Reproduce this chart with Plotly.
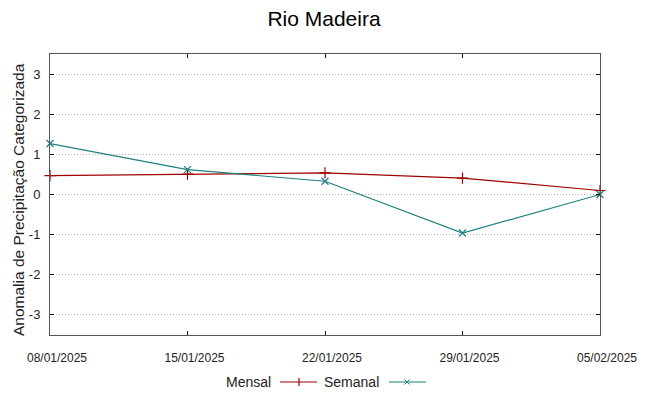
import plotly.graph_objects as go

dates = ["08/01/2025", "15/01/2025", "22/01/2025", "29/01/2025", "05/02/2025"]
mensal = [0.47, 0.51, 0.54, 0.41, 0.10]
semanal = [1.27, 0.62, 0.33, -0.96, 0.0]
yticks = [-3, -2, -1, 0, 1, 2, 3]

RED = "#a00000"
TEAL = "#1e8080"
FONT = "Liberation Sans, Arial, sans-serif"
TXT = "#222"

W, H = 648, 396
L, R, T, B = 50, 48, 54, 61
PW, PH = W - L - R, H - T - B

fig = go.Figure()
fig.add_trace(go.Scatter(x=list(range(len(dates))), y=mensal, mode="lines+markers", name="Mensal",
                         line=dict(color=RED, width=1.2),
                         marker=dict(symbol="cross-thin-open", size=8, line=dict(color=RED, width=1.2)),
                         showlegend=False, cliponaxis=False))
fig.add_trace(go.Scatter(x=list(range(len(dates))), y=semanal, mode="lines+markers", name="Semanal",
                         line=dict(color=TEAL, width=1.2),
                         marker=dict(symbol="x-thin-open", size=7, line=dict(color=TEAL, width=1.2)),
                         showlegend=False, cliponaxis=False))

fig.update_layout(
    width=W, height=H,
    margin=dict(l=L, r=R, t=T, b=B),
    paper_bgcolor="white", plot_bgcolor="white",
    title=dict(text="Rio Madeira", x=0.5, xanchor="center", y=1 - 19 / H, yanchor="middle",
               font=dict(family=FONT, size=21, color="black")),
    font=dict(family=FONT, color=TXT),
    xaxis=dict(range=[0, len(dates) - 1], tickvals=list(range(len(dates))), ticktext=dates,
               showgrid=False, zeroline=False, showline=True, linecolor="#555", linewidth=1,
               mirror="ticks", ticks="inside", ticklen=4, tickcolor="#111",
               ticklabelshift=7, ticklabelstandoff=12,
               tickfont=dict(family=FONT, size=12, color=TXT)),
    yaxis=dict(range=[-3.5, 3.5], tickvals=yticks, ticktext=[str(v) for v in yticks],
               showgrid=True, gridcolor="#b0b0b0", griddash="1px,2px", gridwidth=1,
               zeroline=False, showline=True, linecolor="#555", linewidth=1,
               mirror="ticks", ticks="inside", ticklen=4, tickcolor="#111",
               ticklabelstandoff=6,
               tickfont=dict(family=FONT, size=13, color=TXT)),
)

def px_x(p):
    return (p - L) / PW
def px_y(p):
    return (H - B - p) / PH

# y-axis title placed like the reference
fig.add_annotation(x=px_x(18), y=px_y(200), xref="paper", yref="paper",
                   text="Anomalia de Precipitação Categorizada", textangle=-90,
                   showarrow=False, xanchor="center", yanchor="middle",
                   font=dict(family=FONT, size=15.5, color=TXT))

# custom legend (text followed by line sample, gnuplot style)
ly = 382

def hline(x0, x1, y0, y1, color, w=1.2):
    fig.add_shape(type="line", xref="paper", yref="paper", x0=px_x(x0), x1=px_x(x1),
                  y0=px_y(y0), y1=px_y(y1), line=dict(color=color, width=w))

fig.add_annotation(x=px_x(273), y=px_y(ly), xref="paper", yref="paper", text="Mensal",
                   showarrow=False, xanchor="right", yanchor="middle",
                   font=dict(family=FONT, size=14, color=TXT))
hline(280, 317, ly, ly, RED)
hline(299, 299, ly - 4, ly + 4, RED)
fig.add_annotation(x=px_x(381), y=px_y(ly), xref="paper", yref="paper", text="Semanal",
                   showarrow=False, xanchor="right", yanchor="middle",
                   font=dict(family=FONT, size=14, color=TXT))
hline(389, 426, ly, ly, TEAL)
hline(404.5, 409.5, ly - 2.5, ly + 2.5, TEAL, 1)
hline(404.5, 409.5, ly + 2.5, ly - 2.5, TEAL, 1)

fig.write_html("out.html", config={"displayModeBar": False},
               post_script="document.body.style.margin='0';document.body.style.padding='0';")
